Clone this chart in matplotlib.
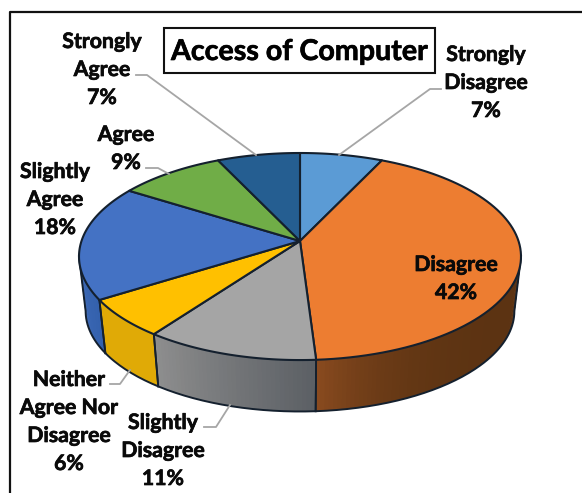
import numpy as np
import matplotlib
matplotlib.use('Agg')
import matplotlib.pyplot as plt
import matplotlib.patheffects as pe
from matplotlib.colors import to_rgb

labels = ['Strongly\nDisagree\n7%', 'Disagree\n42%', 'Slightly\nDisagree\n11%',
          'Neither\nAgree Nor\nDisagree\n6%', 'Slightly\nAgree\n18%', 'Agree\n9%', 'Strongly\nAgree\n7%']
values = [7, 42, 11, 6, 18, 9, 7]
title = 'Access of Computer'

colors = ['#5b9bd5', '#ed7d31', '#a5a5a5', '#ffc000', '#4472c4', '#70ad47', '#255e91']
wall_left = ['#4a80b5', '#8c4c20', '#8f8f8f', '#e0aa06', '#3d6ab8', '#5a8c3a', '#1e4c75']
wall_right = ['#4a80b5', '#5c3312', '#5c6065', '#e0aa06', '#3461ad', '#5a8c3a', '#1e4c75']
wall_power = [1, 5, 1, 1, 1, 1, 1]

label_xy = [(486, 83), (456, 279), (163, 451), (69, 422), (55, 200), (126, 149), (102, 70)]
leaders = [
    [(441, 89), (430, 89), (339, 155)],
    None,
    [(204, 427), (216, 427), (230, 405)],
    [(110, 384), (120, 384), (130, 370)],
    None,
    [(146, 168), (158, 168), (169, 174)],
    [(136, 75), (147, 75), (256, 155)],
]

plt.rcParams['font.family'] = ['Lato', 'DejaVu Sans']

cx, cy = 300, 241
b, a, k = 218.5, 101.2, 0.15


def top_rim(theta):
    # theta in degrees, clockwise from the top of the pie
    t = np.radians(theta)
    w = 1 + k * np.cos(t)
    return cx + b * np.sin(t) / w, cy - a * np.cos(t) / w


def low_rim(theta):
    x, y = top_rim(theta)
    return cx + (x - cx) * 0.97, cy + (y - cy) * 0.97 + 55


fig = plt.figure(figsize=(5.82, 4.93), dpi=100)
ax = fig.add_axes([0, 0, 1, 1])
ax.set_xlim(0, 582)
ax.set_ylim(493, 0)
ax.axis('off')

# outer frame, only top and left are inside the crop
ax.plot([9.5, 9.5, 582], [493, 11.5, 11.5], color='#111111', lw=1.6, solid_capstyle='butt')

edges = np.cumsum([0] + values) / sum(values) * 360
edge_col = '#14202e'

# wall is visible between the two widest points of the rim
side = np.degrees(np.arccos(-k))
wall_a, wall_b = side, 360 - side

for i in range(len(values)):
    start, end = max(edges[i], wall_a), min(edges[i + 1], wall_b)
    if end <= start:
        continue
    n = max(int(end - start), 2)
    steps = np.linspace(start, end, n + 1)
    c1, c2 = np.array(to_rgb(wall_left[i])), np.array(to_rgb(wall_right[i]))
    for j in range(n):
        # each strip runs under the next one so no seams show
        th = np.linspace(steps[j], min(steps[j + 1] + 1, end), 4)
        xt, yt = top_rim(th)
        xl, yl = low_rim(th)
        f = (steps[j] - start) / (end - start)
        c = c1 + (c2 - c1) * (1 - f ** wall_power[i])
        ax.fill(np.r_[xt, xl[::-1]], np.r_[yt, yl[::-1]], facecolor=c, edgecolor='none', zorder=2)
    for e in (edges[i], edges[i + 1]):
        if wall_a < e < wall_b:
            xt, yt = top_rim(e)
            xl, yl = low_rim(e)
            ax.plot([xt, xl], [yt, yl], color=edge_col, lw=1.3, zorder=3)

th = np.linspace(wall_a, wall_b, 200)
xl, yl = low_rim(th)
xt, yt = top_rim(np.array([wall_a, wall_b]))
ax.plot(np.r_[xt[0], xl, xt[1]], np.r_[yt[0], yl, yt[1]], color=edge_col, lw=1.4, zorder=3)

# cap
for i in range(len(values)):
    th = np.linspace(edges[i], edges[i + 1], 80)
    x, y = top_rim(th)
    ax.fill(np.r_[cx, x], np.r_[cy, y], facecolor=colors[i], edgecolor=edge_col,
            lw=1.5, joinstyle='round', zorder=4)

for pts in leaders:
    if pts is None:
        continue
    ax.plot(*zip(*pts), color='#a6a6a6', lw=1.3, zorder=5)

# the reference text is a bit heavier than Lato Bold
heavy = [pe.withStroke(linewidth=0.5, foreground='#0a0a0a')]
for text, (x, y) in zip(labels, label_xy):
    ax.text(x, y, text, ha='center', va='center', fontsize=15.3, fontweight='bold',
            color='#0a0a0a', linespacing=1.5, zorder=6, path_effects=heavy)

ax.add_patch(plt.Rectangle((163.5, 27.5), 271.5, 45, fc='white', ec='#111111', lw=1.5, zorder=5))
ax.text(299.5, 52, title, ha='center', va='center', fontsize=20.6, fontweight='bold',
        color='black', zorder=6, path_effects=heavy)

fig.savefig('out.png', dpi=100)
